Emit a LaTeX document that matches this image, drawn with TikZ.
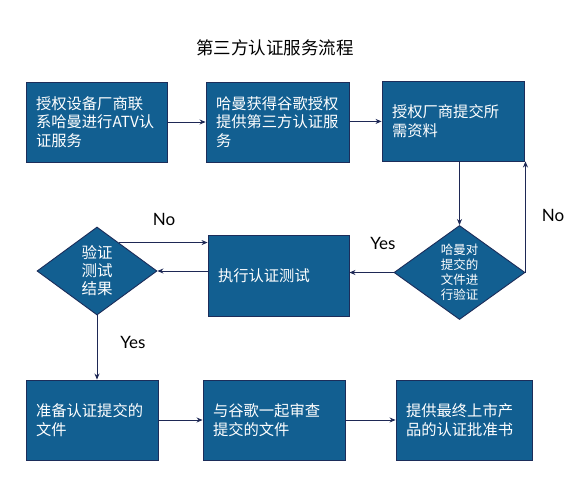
\documentclass[tikz,border=0pt]{standalone}
\usepackage{fontspec}
\setmainfont{Noto Sans CJK SC}
\newfontfamily\latinfont{Lato}
\usetikzlibrary{shapes.geometric,arrows.meta,calc}
\definecolor{boxfill}{RGB}{18,95,145}
\definecolor{boxline}{RGB}{28,45,90}
\definecolor{arrowcol}{RGB}{30,40,85}
\tikzset{
  procbox/.style={draw=boxline, line width=0.9pt, fill=boxfill, text=white,
    inner xsep=10pt, inner ysep=0pt, align=left, minimum height=80pt,
    font=\fontsize{15.3}{18.5}\selectfont},
  decbox/.style={shape=diamond, draw=boxline, line width=0.9pt, fill=boxfill, text=white,
    inner sep=0pt, align=center},
  arr/.style={draw=arrowcol, line width=0.8pt, -{Stealth[length=6pt,width=5pt]}},
  lbl/.style={font=\latinfont\fontsize{17}{20}\selectfont, text=black},
}
\begin{document}
\begin{tikzpicture}[x=1pt,y=-1pt]
\useasboundingbox (0,0) rectangle (585,500);
\node[font=\fontsize{17.5}{20}\selectfont] (title) at (275,48) {第三方认证服务流程};

\node[procbox, text width=121pt] (b1) at (96.5,122) {授权设备厂商联\\系哈曼进行ATV认\\证服务};
\node[procbox, text width=123pt] (b2) at (277.5,122) {哈曼获得谷歌授权\\提供第三方认证服\\务};
\node[procbox, text width=122pt] (b3) at (453,121) {授权厂商提交所\\需资料};
\node[procbox, text width=121pt, minimum height=81pt] (b4) at (278.5,275.5) {执行认证测试};
\node[decbox, minimum width=120pt, minimum height=88pt, font=\fontsize{15.5}{18}\selectfont] (d1) at (97,271) {验证\\测试\\结果};
\node[decbox, minimum width=131pt, minimum height=89pt, font=\fontsize{12.5}{15}\selectfont] (d2) at (459.5,272.5) {哈曼对\\提交的\\文件进\\行验证};
\node[procbox, text width=112pt] (b5) at (92,420) {准备认证提交的\\文件};
\node[procbox, text width=122pt] (b6) at (274,420) {与谷歌一起审查\\提交的文件};
\node[procbox, text width=116pt] (b7) at (464,420) {提供最终上市产\\品的认证批准书};

\draw[arr] (b1) -- (b2);
\draw[arr] (b2) -- (b3);
\draw[arr] (b3.south -| d2.north) -- (d2.north);
\draw[arr] (d2.east) -- (d2.east |- b3.south);
\draw[arr] (d2.west) -- (d2.west -| b4.east);
\draw[arr] (b4.west |- d1.east) -- (d1.east);
\coordinate (d1ne) at ($(d1.north)!0.36!(d1.east)$);
\draw[arr] (d1ne) -- (d1ne -| b4.west);
\draw[arr] (d1.south) -- (d1.south |- b5.north);
\draw[arr] (b5) -- (b6);
\draw[arr] (b6) -- (b7);

\node[lbl] (no1) at (164,219) {No};
\node[lbl] (yes1) at (133,342) {Yes};
\node[lbl] (yes2) at (383,243) {Yes};
\node[lbl] (no2) at (553,215) {No};
\end{tikzpicture}
\end{document}
